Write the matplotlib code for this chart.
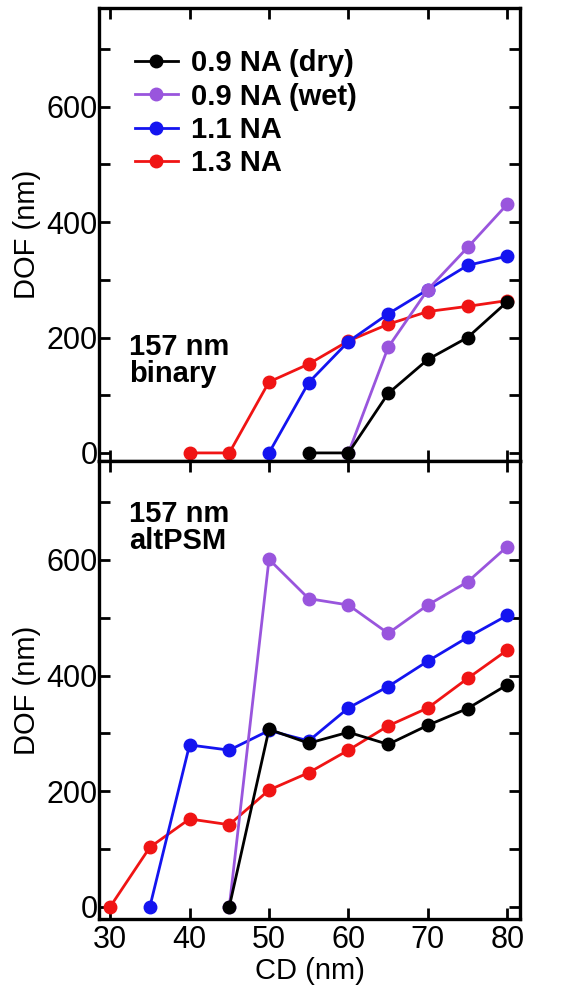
import numpy as np
import matplotlib
matplotlib.use("Agg")
import matplotlib.pyplot as plt
from matplotlib.ticker import MultipleLocator

plt.rcParams["font.family"] = ["Liberation Sans", "DejaVu Sans"]

# ── data ────────────────────────────────────────────────────────────────────
labels = ["0.9 NA (dry)", "0.9 NA (wet)", "1.1 NA", "1.3 NA"]
colors = ["#000000", "#9955dd", "#1414f0", "#f01414"]

# 157 nm binary
bin_dry_x = [55, 60, 65, 70, 75, 80]
bin_dry_y = [0, 0, 103, 162, 200, 262]
bin_wet_x = [60, 65, 70, 75, 80]
bin_wet_y = [0, 183, 283, 356, 431]
bin_11_x = [50, 55, 60, 65, 70, 75, 80]
bin_11_y = [0, 122, 193, 241, 283, 325, 341]
bin_13_x = [40, 45, 50, 55, 60, 65, 70, 75, 80]
bin_13_y = [0, 0, 123, 154, 194, 223, 245, 254, 264]

# 157 nm altPSM
alt_dry_x = [45, 50, 55, 60, 65, 70, 75, 80]
alt_dry_y = [0, 307, 283, 302, 281, 314, 343, 384]
alt_wet_x = [45, 50, 55, 60, 65, 70, 75, 80]
alt_wet_y = [0, 601, 533, 522, 473, 522, 562, 623]
alt_11_x = [35, 40, 45, 50, 55, 60, 65, 70, 75, 80]
alt_11_y = [0, 280, 271, 305, 287, 344, 381, 425, 466, 504]
alt_13_x = [30, 35, 40, 45, 50, 55, 60, 65, 70, 75, 80]
alt_13_y = [0, 103, 152, 142, 202, 232, 271, 313, 344, 395, 444]

panels = [
    ("157 nm\nbinary", [(bin_dry_x, bin_dry_y), (bin_wet_x, bin_wet_y),
                        (bin_11_x, bin_11_y), (bin_13_x, bin_13_y)], 208),
    ("157 nm\naltPSM", [(alt_dry_x, alt_dry_y), (alt_wet_x, alt_wet_y),
                        (alt_11_x, alt_11_y), (alt_13_x, alt_13_y)], 703),
]

# ── figure ──────────────────────────────────────────────────────────────────
W, H = 571, 993
fig = plt.figure(figsize=(W / 100, H / 100), dpi=100)
left, right = 99 / W, 520 / W
ax_top = fig.add_axes([left, 1 - 461 / H, right - left, (461 - 8) / H])
ax_bot = fig.add_axes([left, 1 - 919 / H, right - left, (919 - 461) / H])

zorders = [5, 4, 3, 2]
for ax, (tag, series, ty), ylo in zip([ax_top, ax_bot], panels, [-14, -21]):
    for (x, y), c, lab, z in zip(series, colors, labels, zorders):
        ax.plot(x, y, "-o", color=c, lw=2, ms=9, label=lab, zorder=z)
    ax.set_xlim(28.6, 81.6)
    ax.set_ylim(ylo, 771)
    ax.xaxis.set_major_locator(MultipleLocator(10))
    ax.yaxis.set_major_locator(MultipleLocator(200))
    ax.yaxis.set_minor_locator(MultipleLocator(100))
    ax.tick_params(which="both", direction="in", top=True, right=True,
                   width=2, length=8, labelsize=22, pad=1)
    ax.tick_params(axis="x", pad=4)
    for s in ax.spines.values():
        s.set_linewidth(2.4)
    ax.set_ylabel("DOF (nm)", fontsize=21, labelpad=4)
    ax.text(32.4, ty, tag, fontsize=21, fontweight="bold", va="top",
            ha="left", linespacing=0.95)

ax_top.tick_params(labelbottom=False)
ax_bot.set_xlabel("CD (nm)", fontsize=21, labelpad=2)

leg = ax_top.legend(loc="upper left", bbox_to_anchor=(0.036, 0.954),
                    frameon=False, handlelength=1.5,
                    handletextpad=0.45, labelspacing=0.18, borderpad=0.2,
                    prop={"weight": "bold", "size": 21})

fig.savefig("out.png", dpi=100)
